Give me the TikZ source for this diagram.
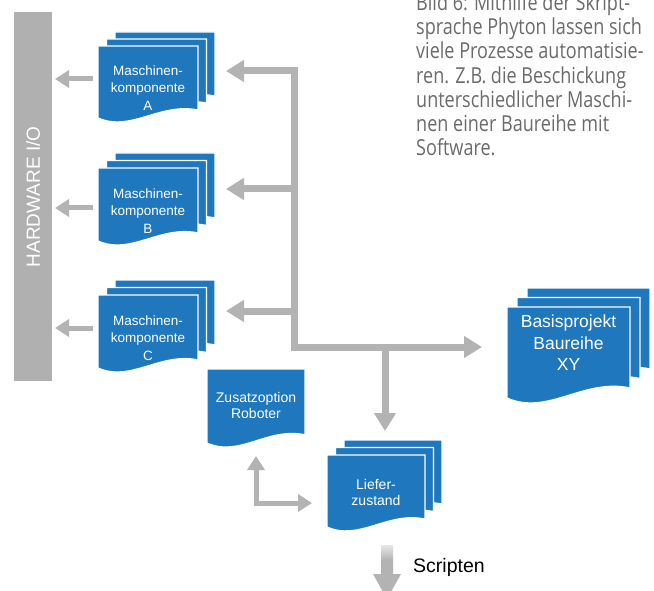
\documentclass[tikz,border=0pt]{standalone}
\usepackage{fontspec}
\setmainfont{Liberation Sans}
\newfontfamily\capfont[FakeStretch=0.82]{Open Sans}
\usetikzlibrary{arrows.meta}
\definecolor{docblue}{HTML}{1F77BD}
\definecolor{arrgray}{HTML}{B3B3B3}
\definecolor{bargray}{HTML}{B0B0B0}
\definecolor{captgray}{HTML}{6B6B6B}
\tikzset{
  docpage/.style={fill=docblue, draw=white, line width=1.3pt, line join=miter},
  doctext/.style={text=white, align=center, inner sep=0pt, font=\fontsize{13.5}{17.5}\selectfont},
  bigtext/.style={text=white, align=center, inner sep=0pt, font=\fontsize{17.5}{21.5}\selectfont},
  midtext/.style={text=white, align=center, inner sep=0pt, font=\fontsize{14}{16}\selectfont},
  trunk/.style={draw=arrgray, line width=7pt, line join=miter},
  thinarr/.style={draw=arrgray, line width=5pt, line join=miter},
  bigtip/.tip={Triangle[length=18pt, width=21pt]},
  smalltip/.tip={Triangle[length=14pt, width=17pt]},
  captline/.style={anchor=base west, inner sep=0pt, text=captgray, font=\capfont\fontsize{22}{24}\selectfont}
}
% one document page: x y w h (pixel units, y downward)
\newcommand{\mydocpage}[4]{%
  \pgfmathsetmacro{\dpX}{#1}\pgfmathsetmacro{\dpY}{#2}%
  \pgfmathsetmacro{\dpXr}{#1+#3}\pgfmathsetmacro{\dpYb}{#2+#4}%
  \pgfmathsetmacro{\dpYr}{#2+0.89*#4}%
  \pgfmathsetmacro{\dpCax}{#1+0.33*#3}\pgfmathsetmacro{\dpCay}{#2+1.2*#4}%
  \pgfmathsetmacro{\dpCbx}{#1+0.62*#3}\pgfmathsetmacro{\dpCby}{#2+0.78*#4}%
  \path[docpage] (\dpX,\dpY) -- (\dpXr,\dpY) -- (\dpXr,\dpYr)
     .. controls (\dpCbx,\dpCby) and (\dpCax,\dpCay) .. (\dpX,\dpYb) -- cycle;%
}
% stack of three pages: x y w h dx dy
\newcommand{\mydocstack}[6]{%
  \mydocpage{#1+2*#5}{#2+2*#6}{#3}{#4}%
  \mydocpage{#1+#5}{#2+#6}{#3}{#4}%
  \mydocpage{#1}{#2}{#3}{#4}%
}
\begin{document}
\begin{tikzpicture}[x=1pt, y=-1pt]
\useasboundingbox (0,0) rectangle (654,591);
\clip (0,0) rectangle (654,591);
\fill[white] (0,0) rectangle (654,591);

% caption
\foreach \t [count=\i] in {Bild 6: Mithilfe der Skript-, sprache Phyton lassen sich,
  viele Prozesse automatisie-, ren. Z.B. die Beschickung, unterschiedlicher Maschi-,
  nen einer Baureihe mit, Software.}{
  \node[captline] (cap\i) at (416,{10.5+(\i-1)*24.2}) {\t};
}

% hardware bar
\fill[bargray] (14,12) rectangle (52,381);
\node[rotate=90, text=white, inner sep=0pt, font=\fontsize{19}{19}\selectfont] (hw) at (33,197) {HARDWARE I/O};

% document stacks
\mydocstack{98}{46}{100}{72}{8.5}{-7}
\node[doctext] (mA) at (148,88) {Maschinen-\\komponente\\A};
\mydocstack{98}{168}{100}{73}{8.5}{-7.5}
\node[doctext] (mB) at (148,211) {Maschinen-\\komponente\\B};
\mydocstack{98}{295}{100}{73}{8.5}{-7.5}
\node[doctext] (mC) at (148,338) {Maschinen-\\komponente\\C};
\mydocstack{507}{307}{123}{91}{10}{-9.5}
\node[bigtext] (basis) at (568.5,343) {Basisprojekt\\Baureihe\\XY};
\mydocpage{207}{369}{98}{74}
\node[midtext] (zus) at (256,405) {Zusatzoption\\Roboter};
\mydocstack{327}{455}{98}{72}{8.5}{-7.5}
\node[midtext] (lief) at (376,492) {Liefer-\\zustand};

% connector coordinates
\coordinate (sA) at (93,79);  \coordinate (hA) at (55,79);
\coordinate (sB) at (93,208); \coordinate (hB) at (55,208);
\coordinate (sC) at (93,328); \coordinate (hC) at (55,328);
\coordinate (tA) at (226,71);
\coordinate (jTop) at (294,71);
\coordinate (jB) at (294,189); \coordinate (tB) at (226,189);
\coordinate (jC) at (294,311); \coordinate (tC) at (226,311);
\coordinate (jBot) at (294,347);
\coordinate (tBasis) at (482,347);
\coordinate (jL) at (385,347); \coordinate (tL) at (385,431);
\coordinate (zTip) at (256,456); \coordinate (lTip) at (312,503);

% arrows to hardware bar
\draw[thinarr, -{smalltip}] (sA) -- (hA);
\draw[thinarr, -{smalltip}] (sB) -- (hB);
\draw[thinarr, -{smalltip}] (sC) -- (hC);

% trunk
\draw[trunk, {bigtip}-{bigtip}] (tA) -- (jTop) -- (jBot) -- (tBasis);
\draw[trunk, -{bigtip}] (jB) -- (tB);
\draw[trunk, -{bigtip}] (jC) -- (tC);
\draw[trunk, -{bigtip}] (jL) -- (tL);

% Zusatzoption <-> Lieferzustand
\draw[thinarr, {smalltip}-{smalltip}] (zTip) |- (lTip);

% Scripten arrow
\fill[arrgray] (381,559) -- (381,574) -- (373,574) -- (387,599) -- (401,574) -- (393,574) -- (393,559) -- cycle;
\shade[top color=arrgray!30, bottom color=arrgray] (381,545) rectangle (393,560);
\node[anchor=west, inner sep=0pt, font=\fontsize{19.5}{19.5}\selectfont] (scr) at (413,567) {Scripten};
\end{tikzpicture}
\end{document}
